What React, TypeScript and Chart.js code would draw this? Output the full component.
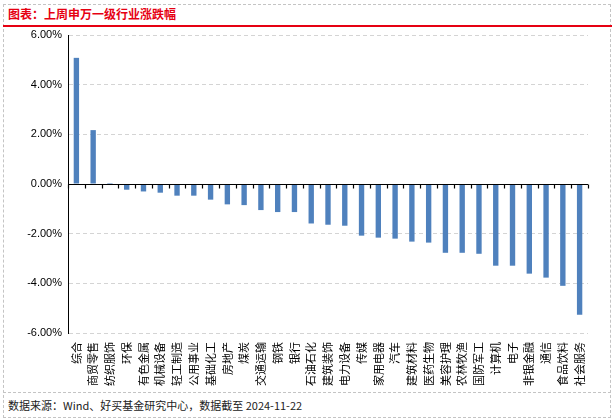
import { useEffect, useRef } from "react";
import { Chart, registerables } from "chart.js";

Chart.register(...registerables);

const categories = [
  "综合", "商贸零售", "纺织服饰", "环保", "有色金属", "机械设备", "轻工制造", "公用事业",
  "基础化工", "房地产", "煤炭", "交通运输", "钢铁", "银行", "石油石化", "建筑装饰",
  "电力设备", "传媒", "家用电器", "汽车", "建筑材料", "医药生物", "美容护理", "农林牧渔",
  "国防军工", "计算机", "电子", "非银金融", "通信", "食品饮料", "社会服务",
];

const weeklyChange = [
  5.08, 2.17, 0.04, -0.23, -0.3, -0.35, -0.47, -0.47,
  -0.63, -0.82, -0.85, -1.05, -1.13, -1.13, -1.59, -1.64,
  -1.68, -2.08, -2.16, -2.2, -2.32, -2.36, -2.77, -2.77,
  -2.81, -3.29, -3.29, -3.61, -3.77, -4.1, -5.27,
];

const yMin = -6;
const yMax = 6;
const yStep = 2;

const titleText = "图表：上周申万一级行业涨跌幅";
const sourceText = "数据来源：Wind、好买基金研究中心，数据截至 2024-11-22";

export default function App() {
  const ref = useRef<HTMLCanvasElement>(null);

  useEffect(() => {
    const zeroLine = {
      id: "zeroLine",
      afterDatasetsDraw(chart: any) {
        const { ctx, chartArea, scales } = chart;
        const x = scales.x;
        const y = scales.y;
        const y0 = Math.round(y.getPixelForValue(0)) + 0.5;
        const half = (x.getPixelForValue(1) - x.getPixelForValue(0)) / 2;
        ctx.save();
        ctx.strokeStyle = "#000";
        ctx.lineWidth = 1.2;
        ctx.beginPath();
        ctx.moveTo(chartArea.left, y0);
        ctx.lineTo(chartArea.right, y0);
        for (let i = 0; i <= categories.length; i++) {
          const px = Math.round(x.getPixelForValue(i) - half) + 0.5;
          ctx.moveTo(px, y0);
          ctx.lineTo(px, y0 + 4);
        }
        ctx.stroke();
        ctx.restore();
      },
    };

    const chart = new Chart(ref.current!, {
      type: "bar",
      data: {
        labels: categories,
        datasets: [
          {
            data: weeklyChange,
            backgroundColor: "#4f81bd",
            barPercentage: 0.32,
            categoryPercentage: 1,
          },
        ],
      },
      options: {
        animation: false,
        responsive: true,
        maintainAspectRatio: false,
        layout: { padding: { top: 35, right: 27, left: 0, bottom: 0 } },
        plugins: {
          legend: { display: false },
          tooltip: { enabled: false },
          title: { display: false },
        },
        scales: {
          x: {
            offset: true,
            grid: { display: false, drawTicks: false },
            border: { display: false },
            ticks: {
              autoSkip: false,
              maxRotation: 90,
              minRotation: 90,
              padding: 9,
              color: "#000",
              font: { family: '"Noto Sans CJK SC", sans-serif', size: 11 },
            },
            afterFit(scale: any) {
              scale.height = 86;
            },
          },
          y: {
            min: yMin,
            max: yMax,
            ticks: {
              stepSize: yStep,
              padding: 6,
              color: "#000",
              font: { family: '"Liberation Sans", Arial, sans-serif', size: 11 },
              callback: (v: any) => Number(v).toFixed(2) + "%",
            },
            grid: { color: "#d4d4d4", drawTicks: false, lineWidth: 1 },
            border: { color: "#000", width: 1, dash: [4, 3] },
            afterFit(scale: any) {
              scale.width = 68;
            },
          },
        },
      },
      plugins: [zeroLine],
    });
    return () => chart.destroy();
  }, []);

  return (
    <div
      style={{
        position: "absolute",
        left: 0,
        top: 0,
        width: 615,
        height: 419,
        overflow: "hidden",
        background: "#fff",
        fontFamily: '"Noto Sans CJK SC", sans-serif',
      }}
    >
      <div
        style={{
          position: "absolute",
          left: 3,
          top: 4,
          width: 608,
          height: 414,
          border: "1px dashed #c4c4c4",
          boxSizing: "border-box",
        }}
      />
      <div
        style={{
          position: "absolute",
          left: 8,
          top: 6,
          fontSize: 12,
          lineHeight: "16px",
          fontWeight: 700,
          color: "#e60012",
          whiteSpace: "nowrap",
        }}
      >
        {titleText}
      </div>
      <div
        style={{
          position: "absolute",
          left: 3,
          top: 25,
          width: 609,
          height: 2,
          background: "#e60012",
        }}
      />
      <div
        style={{
          position: "absolute",
          left: 3,
          top: 392,
          width: 608,
          height: 0,
          borderTop: "1px dashed #c4c4c4",
        }}
      />
      <div
        style={{
          position: "absolute",
          left: 8,
          top: 397,
          fontSize: 11,
          lineHeight: "16px",
          color: "#222",
          whiteSpace: "nowrap",
        }}
      >
        {sourceText}
      </div>
      <div style={{ position: "absolute", left: 0, top: 0, width: 615, height: 419 }}>
        <canvas ref={ref} />
      </div>
    </div>
  );
}
